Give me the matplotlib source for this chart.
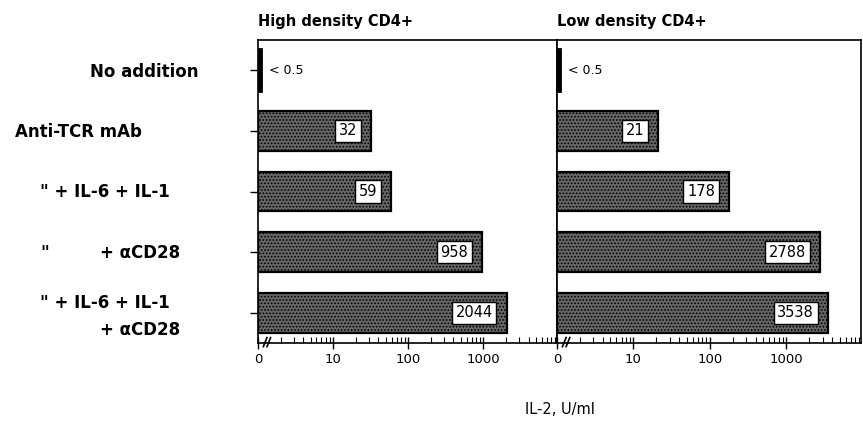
import matplotlib
matplotlib.use("Agg")
import matplotlib.pyplot as plt
from matplotlib.ticker import FixedLocator, LogLocator, NullFormatter

# ---- data ----
categories = ['No addition', 'Anti-TCR mAb', '" + IL-6 + IL-1', '"  + αCD28', '" + IL-6 + IL-1 + αCD28']
panel_titles = ['High density CD4+', 'Low density CD4+']
high_values = [1.13, 32, 59, 958, 2044]      # first bar is the "< 0.5" stub
low_values = [1.13, 21, 178, 2788, 3538]
high_labels = ['< 0.5', '32', '59', '958', '2044']
low_labels = ['< 0.5', '21', '178', '2788', '3538']
xtick_values = [1, 10, 100, 1000]
xtick_labels = ['0', '10', '100', '1000']
xlabel = 'IL-2, U/ml'

W, H = 863, 432
fig = plt.figure(figsize=(W / 100, H / 100), dpi=100)
plt.rcParams['font.family'] = ['DejaVu Sans']
plt.rcParams['hatch.linewidth'] = 0.8

def fx(px):
    return px / W

def fy(py):
    return 1 - py / H

top, bottom = 40, 343
ax1 = fig.add_axes([fx(258), fy(bottom), fx(557 - 258), fy(top) - fy(bottom)])
ax2 = fig.add_axes([fx(557), fy(bottom), fx(861 - 557), fy(top) - fy(bottom)])

ypos = list(range(len(categories)))
for ax, vals, labs, title in [(ax1, high_values, high_labels, panel_titles[0]),
                              (ax2, low_values, low_labels, panel_titles[1])]:
    ax.set_xscale('log')
    ax.set_xlim(1, 10 ** 3.98)
    ax.set_ylim(len(categories) - 0.5, -0.5)
    for i, (v, lab) in enumerate(zip(vals, labs)):
        if i == 0:
            ax.barh(i, v - 1, left=1, height=0.72, color='black', edgecolor='black', lw=0.6)
            ax.annotate(lab, xy=(1, i), xytext=(8, 0), textcoords='offset points',
                        ha='left', va='center', fontsize=9)
        else:
            ax.barh(i, v - 1, left=1, height=0.66, facecolor='#666666', edgecolor='black',
                    lw=1.6, hatch='.....')
            ax.annotate(lab, xy=(v, i), xytext=(-10, 0), textcoords='offset points',
                        ha='right', va='center', fontsize=10.5,
                        bbox=dict(boxstyle='square,pad=0.25', fc='white', ec='black', lw=1))
    ax.xaxis.set_major_locator(FixedLocator(xtick_values))
    ax.set_xticklabels(xtick_labels, fontsize=9.5)
    ax.xaxis.set_minor_locator(LogLocator(base=10, subs=range(2, 10), numticks=20))
    ax.xaxis.set_minor_formatter(NullFormatter())
    ax.tick_params(axis='x', which='major', direction='inout', length=9, width=1, pad=3)
    ax.tick_params(axis='x', which='minor', direction='in', length=4, width=0.8)
    for s in ax.spines.values():
        s.set_linewidth(1.2)
    ax.text(0.0, 1.035, title, transform=ax.transAxes, ha='left', va='bottom',
            fontsize=10.5, fontweight='bold')
    # axis break marks
    for dx in (0.018, 0.03):
        ax.plot([dx, dx + 0.012], [-0.012, 0.018], transform=ax.transAxes, color='black',
                lw=1.2, clip_on=False)

ax1.set_yticks(ypos)
ax1.set_yticklabels([])
ax1.tick_params(axis='y', direction='out', length=6, width=1)
ax2.set_yticks([])

# category labels (laid out as in the original figure)
label_layout = [
    [(90, 72, 'No addition')],
    [(15, 132, 'Anti-TCR mAb')],
    [(40, 192, '" + IL-6 + IL-1')],
    [(40, 253, '"'), (100, 253, '+ αCD28')],
    [(40, 303, '" + IL-6 + IL-1'), (100, 330, '+ αCD28')],
]
for pieces in label_layout:
    for px, py, t in pieces:
        fig.text(fx(px), fy(py), t, ha='left', va='center', fontsize=12, fontweight='bold')

fig.text(fx(560), fy(410), xlabel, ha='center', va='center', fontsize=10.5)

fig.savefig('out.png', dpi=100)
